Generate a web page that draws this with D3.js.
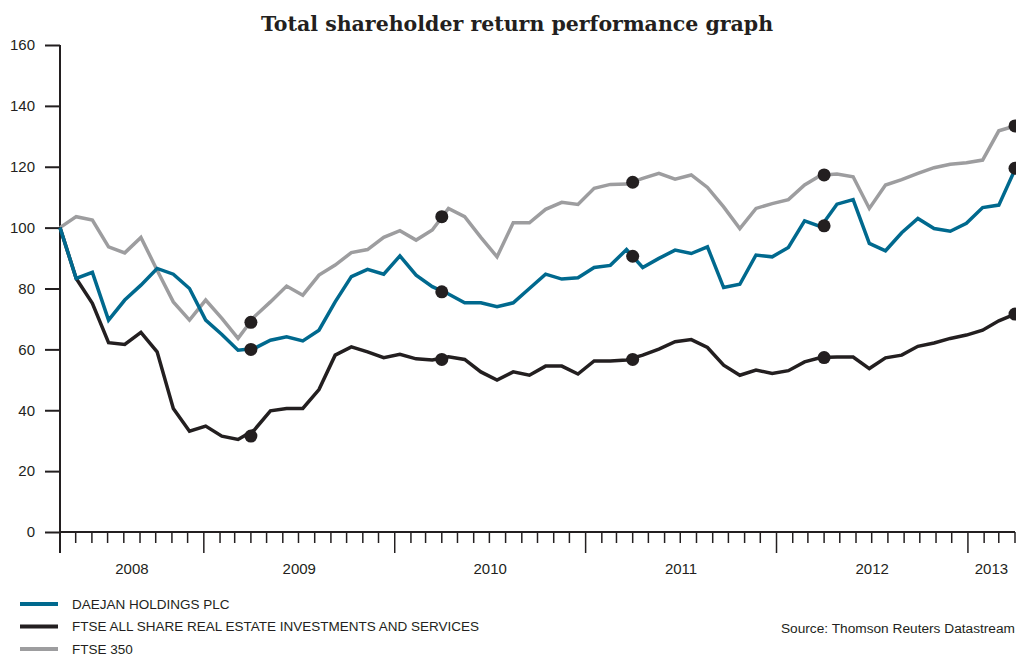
<!DOCTYPE html>
<html>
<head>
<meta charset="utf-8">
<script src="https://cdn.jsdelivr.net/npm/d3@7"></script>
<style>
  body { margin: 0; background: #fff; }
  text { font-family: 'Liberation Sans', Arial, sans-serif; fill: #231f20; }
</style>
</head>
<body>
<div id="chart"></div>
<script>
// monthly index values, 60 points (Mar 2008 = 100)
const daejan = [100, 83.3, 85.3, 69.6, 76.2, 81.1, 86.6, 84.7, 80.0, 69.6,
  64.9, 59.7, 60.3, 63.0, 64.1, 62.8, 66.3, 75.6, 83.9, 86.3,
  84.7, 90.7, 84.4, 80.6, 78.2, 75.3, 75.3, 74.0, 75.3, 80.0,
  84.7, 83.1, 83.5, 86.9, 87.6, 92.8, 86.9, 89.9, 92.6, 91.5,
  93.7, 80.3, 81.4, 91.0, 90.4, 93.5, 102.2, 100.3, 107.7, 109.2,
  94.8, 92.4, 98.3, 103.0, 99.7, 98.8, 101.4, 106.6, 107.4, 119.1]

const ftseRealEstate = [100, 83.3, 75.1, 62.2, 61.6, 65.6, 59.2, 40.6, 33.1, 34.8,
  31.5, 30.4, 33.5, 39.8, 40.6, 40.6, 46.8, 58.1, 60.8, 59.2,
  57.3, 58.4, 56.9, 56.5, 57.6, 56.7, 52.6, 49.9, 52.6, 51.5,
  54.5, 54.5, 51.9, 56.2, 56.2, 56.5, 58.1, 60.1, 62.5, 63.2,
  60.6, 54.8, 51.5, 53.2, 52.1, 53.0, 55.9, 57.3, 57.5, 57.5,
  53.7, 57.2, 58.1, 61.0, 62.1, 63.6, 64.7, 66.3, 69.4, 71.6]

const ftse350 = [100, 103.6, 102.5, 93.7, 91.7, 96.8, 86.0, 75.6, 69.6, 76.2,
  70.2, 63.6, 70.7, 75.6, 80.8, 77.8, 84.4, 87.7, 91.8, 92.8,
  96.8, 99.0, 95.9, 99.2, 106.3, 103.6, 96.8, 90.4, 101.6, 101.6,
  106.0, 108.3, 107.6, 112.9, 114.2, 114.3, 116.2, 117.8, 115.9, 117.3,
  113.2, 106.8, 99.7, 106.3, 107.9, 109.2, 114.0, 117.2, 117.6, 116.7,
  106.3, 114.0, 115.8, 117.8, 119.7, 120.8, 121.3, 122.2, 131.8, 133.4]

// year-end (31 March) markers
const markerDates = ['2009-04-01', '2010-04-01', '2011-04-01', '2012-04-01', '2013-04-01']
const daejanMarkers = [60.0, 78.9, 90.6, 100.6, 119.5]
const realEstateMarkers = [31.5, 56.7, 56.7, 57.3, 71.6]
const ftse350Markers = [68.9, 103.6, 114.9, 117.3, 133.4]

const yTicks = [0, 20, 40, 60, 80, 100, 120, 140, 160]
const yearLabels = ['2008', '2009', '2010', '2011', '2012', '2013']

const seriesNames = [
  'DAEJAN HOLDINGS PLC',
  'FTSE ALL SHARE REAL ESTATE INVESTMENTS AND SERVICES',
  'FTSE 350'
]
const colors = ['#00698e', '#231f20', '#9d9d9f']

const margin = { top: 45, right: 1, bottom: 124, left: 60 }
const width = 1016 - margin.left - margin.right
const height = 656 - margin.top - margin.bottom

const root = d3.select('#chart')
  .append('svg')
  .attr('width', 1016)
  .attr('height', 656)

const svg = root.append('g')
  .attr('transform', 'translate(' + margin.left + ',' + margin.top + ')')

const parseDate = d3.timeParse('%Y-%m-%d')
const start = parseDate('2008-04-01')
const end = parseDate('2013-04-01')

const xTime = d3.scaleTime().domain([start, end]).range([0, width])
const xIndex = d3.scaleLinear().domain([0, daejan.length - 1]).range([0, width])
const y = d3.scaleLinear().domain([0, 160]).range([height, 0])

// title
root.append('text')
  .attr('x', 517)
  .attr('y', 31)
  .attr('text-anchor', 'middle')
  .style('font-family', "'DejaVu Serif', serif")
  .style('font-weight', 'bold')
  .style('font-size', '20.5px')
  .text('Total shareholder return performance graph')

// y axis
const yAxis = d3.axisLeft(y)
  .tickValues(yTicks)
  .tickSize(15)
  .tickPadding(10)

svg.append('g')
  .attr('class', 'y-axis')
  .call(yAxis)
  .call(g => g.select('.domain').remove())
  .call(g => g.selectAll('line').attr('stroke', '#231f20').attr('stroke-width', 2))
  .call(g => g.selectAll('text').style('font-size', '15px').attr('fill', '#231f20'))

svg.append('line')
  .attr('x1', 0).attr('x2', 0)
  .attr('y1', 0).attr('y2', height + 21)
  .attr('stroke', '#231f20')
  .attr('stroke-width', 2)

// x axis: monthly ticks, long ticks at year ends
const months = d3.timeMonth.range(start, d3.timeDay.offset(end, 1))
svg.append('line')
  .attr('x1', 0).attr('x2', width)
  .attr('y1', height).attr('y2', height)
  .attr('stroke', '#231f20')
  .attr('stroke-width', 2)

svg.selectAll('.month-tick')
  .data(months.slice(1))
  .enter()
  .append('line')
  .attr('class', 'month-tick')
  .attr('x1', d => xTime(d))
  .attr('x2', d => xTime(d))
  .attr('y1', height)
  .attr('y2', d => d.getMonth() === 0 ? height + 21 : height + 11)
  .attr('stroke', '#231f20')
  .attr('stroke-width', 1.5)

const bounds = [start].concat(months.filter(d => d.getMonth() === 0)).concat([end])
svg.selectAll('.year-label')
  .data(yearLabels)
  .enter()
  .append('text')
  .attr('class', 'year-label')
  .attr('x', (d, i) => (xTime(bounds[i]) + xTime(bounds[i + 1])) / 2)
  .attr('y', height + 42)
  .attr('text-anchor', 'middle')
  .style('font-size', '15px')
  .text(d => d)

// lines
const line = d3.line()
  .x((d, i) => xIndex(i))
  .y(d => y(d))

const drawOrder = [[ftse350, 2], [ftseRealEstate, 1], [daejan, 0]]
drawOrder.forEach(([values, c]) => {
  svg.append('path')
    .datum(values)
    .attr('fill', 'none')
    .attr('stroke', colors[c])
    .attr('stroke-width', 3.5)
    .attr('stroke-linejoin', 'miter')
    .attr('d', line)
})

// year-end markers
const markerSets = [daejanMarkers, realEstateMarkers, ftse350Markers]
markerSets.forEach(values => {
  svg.selectAll(null)
    .data(values)
    .enter()
    .append('circle')
    .attr('cx', (d, i) => xTime(parseDate(markerDates[i])))
    .attr('cy', d => y(d))
    .attr('r', 6.5)
    .attr('fill', '#231f20')
})

// legend
const legend = root.append('g')
seriesNames.forEach((name, i) => {
  const ly = 604 + i * 22.5
  legend.append('line')
    .attr('x1', 20).attr('x2', 58)
    .attr('y1', ly).attr('y2', ly)
    .attr('stroke', colors[i])
    .attr('stroke-width', 4)
  legend.append('text')
    .attr('x', 72)
    .attr('y', ly + 4.5)
    .style('font-size', '13.5px')
    .text(name)
})

root.append('text')
  .attr('x', 1015)
  .attr('y', 633)
  .attr('text-anchor', 'end')
  .style('font-size', '13.7px')
  .text('Source: Thomson Reuters Datastream')
</script>
</body>
</html>
